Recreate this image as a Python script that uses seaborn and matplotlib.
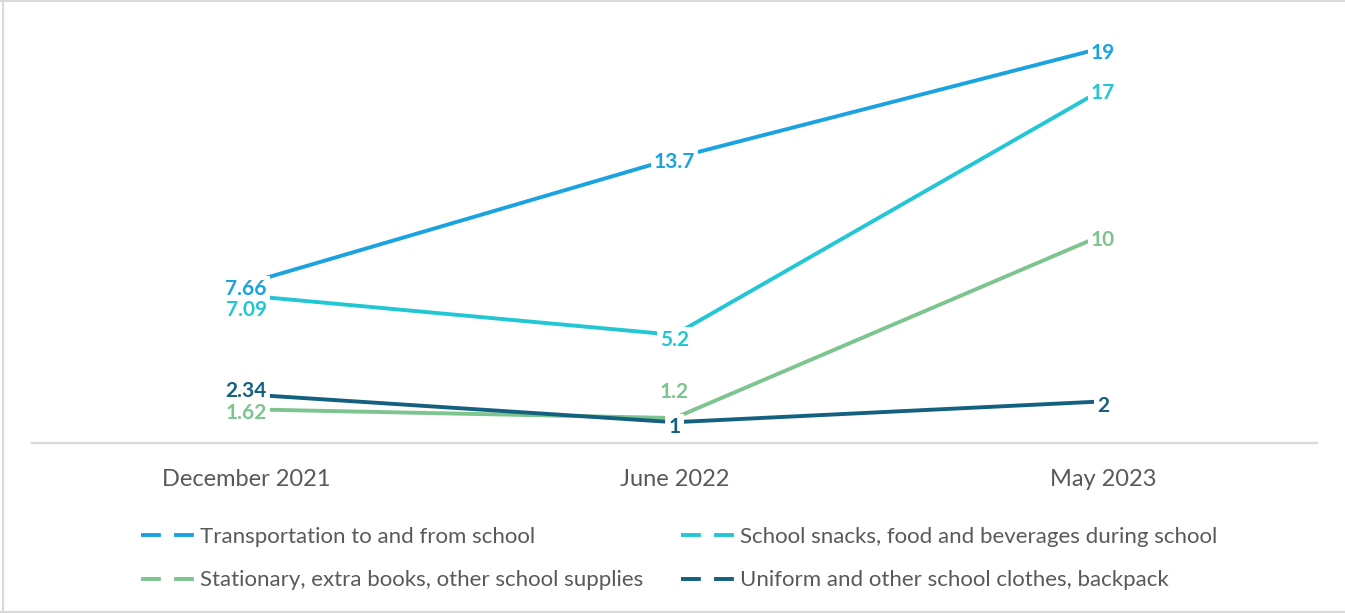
import matplotlib
matplotlib.use("Agg")
import matplotlib.pyplot as plt
from matplotlib.lines import Line2D
import seaborn as sns
import pandas as pd

# Survey periods and the share reported for each school expense
periods = ["December 2021", "June 2022", "May 2023"]
transportation = [7.66, 13.7, 19]
snacks = [7.09, 5.2, 17]
stationary = [1.62, 1.2, 10]
uniform = [2.34, 1, 2]

series_names = [
    "Transportation to and from school",
    "School snacks, food and beverages during school",
    "Stationary, extra books, other school supplies",
    "Uniform and other school clothes, backpack",
]
series_values = [transportation, snacks, stationary, uniform]
colors = ["#1BA3E0", "#22C7D3", "#7DC48F", "#14617F"]

rows = []
for name, vals in zip(series_names, series_values):
    for i, v in enumerate(vals):
        rows.append({"period": i, "value": v, "series": name})
df = pd.DataFrame(rows)

sns.set_theme(style="white")
plt.rcParams["font.family"] = ["Lato", "DejaVu Sans"]

W, H = 1345, 613
fig = plt.figure(figsize=(W / 100, H / 100), dpi=100)
ax = fig.add_axes([32 / W, 1 - 443 / H, (1317 - 32) / W, 416 / H])

sns.lineplot(data=df, x="period", y="value", hue="series",
             palette=dict(zip(series_names, colors)), linewidth=2.8,
             legend=False, ax=ax, sort=False)

ax.set_xlim(-0.5, 2.5)
ax.set_ylim(0, 20)
ax.set_xticks(range(len(periods)))
ax.set_xticklabels(periods, fontsize=17, color="#595959")
ax.tick_params(axis="x", length=0, pad=19)
ax.set_yticks([])
ax.set_xlabel("")
ax.set_ylabel("")
for side in ["top", "left", "right"]:
    ax.spines[side].set_visible(False)
ax.spines["bottom"].set_color("#D9D9D9")
ax.spines["bottom"].set_linewidth(1.6)

# Value labels (vertical nudge in pixels), boxed in white so the line breaks
label_offsets = {
    (0, 0): -5, (0, 1): -4, (0, 2): -5,
    (1, 0): -14, (1, 1): -5, (1, 2): -4,
    (2, 0): -4, (2, 1): 26, (2, 2): -5,
    (3, 0): 3, (3, 1): -5, (3, 2): -5,
}
for s, (vals, col) in enumerate(zip(series_values, colors)):
    for i, v in enumerate(vals):
        ax.annotate(f"{v:g}", xy=(i, v), xytext=(0, label_offsets[(s, i)]),
                    textcoords="offset pixels", ha="center", va="center",
                    fontsize=15, fontweight="bold", color=col, zorder=5,
                    bbox=dict(boxstyle="square,pad=0.15", fc="white", ec="none"))

# Legend in two columns with dashed keys
def handle(c):
    return Line2D([0], [0], color=c, lw=2.8, dashes=(5.1, 3.4))

leg_kw = dict(frameon=False, fontsize=16, labelcolor="#595959",
              handlelength=2.55, handletextpad=0.12, borderpad=0,
              labelspacing=1.05, loc="upper left")
fig.legend([handle(colors[0]), handle(colors[2])],
           [series_names[0], series_names[2]],
           bbox_to_anchor=(130 / W, 1 - 516 / H), **leg_kw)
fig.legend([handle(colors[1]), handle(colors[3])],
           [series_names[1], series_names[3]],
           bbox_to_anchor=(670 / W, 1 - 516 / H), **leg_kw)

# Thin grey frame on the top, left and bottom edges
frame = dict(color="#D9D9D9", lw=1.5, transform=fig.transFigure)
fig.add_artist(Line2D([0, 1], [1 - 0.5 / H, 1 - 0.5 / H], **frame))
fig.add_artist(Line2D([2.5 / W, 2.5 / W], [0, 1], **frame))
fig.add_artist(Line2D([0, 1], [1.5 / H, 1.5 / H], **frame))

fig.savefig("out.png", dpi=100)
